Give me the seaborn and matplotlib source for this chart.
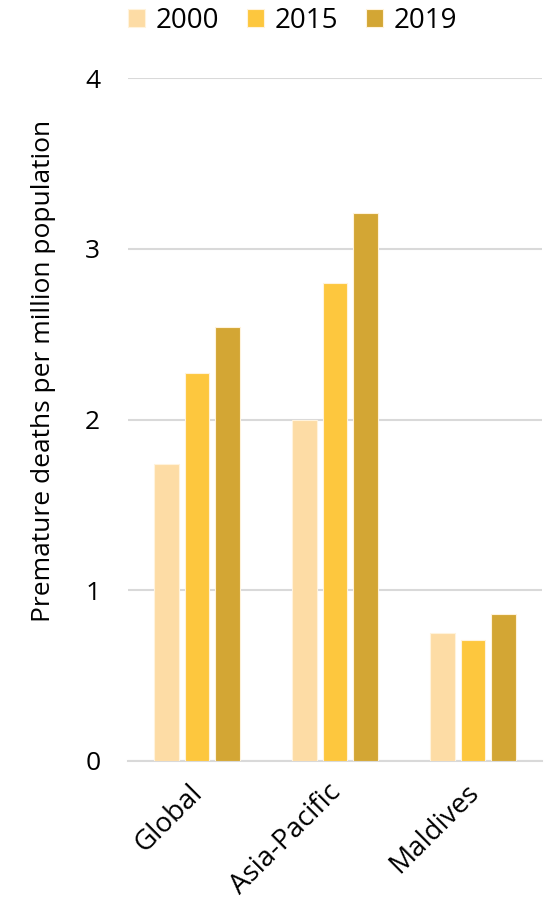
import pandas as pd
import seaborn as sns
import matplotlib.pyplot as plt
from matplotlib.transforms import ScaledTranslation

# data
regions = ["Global", "Asia-Pacific", "Maldives"]
years = ["2000", "2015", "2019"]
vals_2000 = [1.74, 2.00, 0.75]
vals_2015 = [2.27, 2.80, 0.71]
vals_2019 = [2.54, 3.21, 0.86]
colors = ["#FDDCA5", "#FDC73E", "#D3A634"]

df = pd.DataFrame({
    "region": regions * 3,
    "year": [y for y in years for _ in regions],
    "value": vals_2000 + vals_2015 + vals_2019,
})

sns.set_style("white")
plt.rcParams["font.family"] = ["Open Sans", "DejaVu Sans"]
plt.rcParams["text.color"] = "black"
plt.rcParams["axes.labelcolor"] = "black"
plt.rcParams["xtick.color"] = "black"
plt.rcParams["ytick.color"] = "black"

fig = plt.figure(figsize=(5.52, 9.01), dpi=100)
ax = fig.add_axes([0.232, 0.1557, 0.75, 0.7574])

sns.barplot(data=df, x="region", y="value", hue="year", order=regions,
            hue_order=years, palette=colors, saturation=1, width=0.667,
            gap=0.2, edgecolor="#FFF3DC", linewidth=0.8, ax=ax, zorder=3)

ax.set_ylim(0, 4)
ax.set_yticks([0, 1, 2, 3, 4])
ax.grid(axis="y", color="#D9D9D9", linewidth=1.5, zorder=0)
ax.set_axisbelow(True)
for s in ["top", "right", "left"]:
    ax.spines[s].set_visible(False)
ax.spines["bottom"].set_color("#D9D9D9")
ax.spines["bottom"].set_linewidth(1.5)
ax.tick_params(axis="both", length=0)
ax.tick_params(axis="y", labelsize=19, pad=20)
ax.set_xticks(range(len(regions)))
ax.set_xticklabels(regions, rotation=45, ha="right", rotation_mode="anchor",
                   fontsize=20)
ax.tick_params(axis="x", pad=13)
shift = ScaledTranslation(-6 / 72, 0, fig.dpi_scale_trans)
for lbl in ax.get_xticklabels():
    lbl.set_transform(lbl.get_transform() + shift)
ax.set_xlabel("")
ax.set_ylabel("Premature deaths per million population", fontsize=19)
ax.yaxis.set_label_coords(-0.175, 0.571)

ax.legend(loc="center", bbox_to_anchor=(0.53, 0.977),
          bbox_transform=fig.transFigure, ncol=3, frameon=False,
          fontsize=20, handlelength=0.6, handleheight=0.6,
          handletextpad=0.4, columnspacing=1.0)

fig.savefig("out.png", dpi=100)
